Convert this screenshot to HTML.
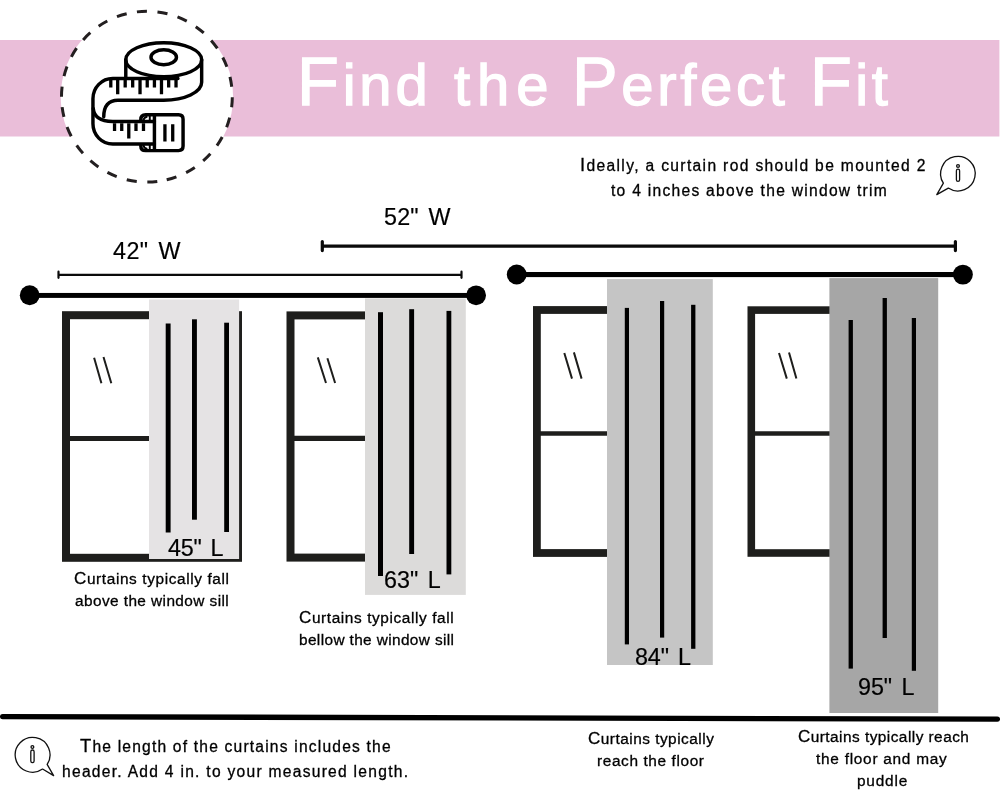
<!DOCTYPE html>
<html lang="en">
<head>
<meta charset="utf-8">
<title>Find the Perfect Fit</title>
<style>
html,body{margin:0;padding:0;background:#fff;}
body{width:1000px;height:800px;position:relative;overflow:hidden;font-family:"Liberation Sans", sans-serif;}
svg.g{position:absolute;left:0;top:0;}
.grp{position:absolute;left:0;top:0;white-space:nowrap;}
.c68_5::first-letter{font-size:68.5px;}
.c17::first-letter{font-size:17px;}
.c18_4::first-letter{font-size:18.4px;}
.t{position:absolute;will-change:transform;white-space:nowrap;line-height:1;font-family:"Liberation Sans", sans-serif;font-weight:400;}
</style>
</head>
<body>
<svg class="g" width="1000" height="800" viewBox="0 0 1000 800">
<!-- banner -->
<rect x="0" y="40" width="999.4" height="96.5" fill="#eabed9"/>
<!-- dashed badge -->
<circle cx="146.9" cy="96.7" r="86.2" fill="#fff"/>
<circle cx="146.9" cy="96.7" r="85.4" fill="none" stroke="#231f20" stroke-width="3" stroke-dasharray="10.1 10.5378" transform="rotate(83.01 146.9 96.7)"/>
<!-- tape measure icon -->
<g transform="translate(85 35) scale(0.14995)" fill="none" stroke="#000" stroke-width="23" stroke-linecap="round" stroke-linejoin="round">
  <ellipse cx="525" cy="165" rx="253" ry="113"/>
  <ellipse cx="525" cy="148" rx="85" ry="50"/>
  <path d="M272 165 V290"/>
  <path d="M620 290 H185 A132 135 0 0 0 53 425 V592 A132 135 0 0 0 185 727 H463"/>
  <path d="M778 165 V315 A253 120 0 0 1 525 435 H220 Q125 435 125 545"/>
  <path d="M55 490 Q62 577 185 577 H463"/>
  <g stroke-linecap="butt" stroke-width="22">
    <path d="M172 298V350M218 298V395M268 298V350M318 298V350M367 298V395M415 298V350M463 298V350M510 298V395M558 298V350M607 298V350"/>
    <path d="M197 588V640M245 588V640M292 588V690M340 588V640M390 588V640"/>
    <path d="M533 595V710M585 595V710"/>
  </g>
  <path d="M405 532 H624 Q654 532 654 562 V741 Q654 771 624 771 H405 Q372 771 372 738 M405 532 Q372 532 372 565 M463 532 V771"/>
  <g stroke-width="13" stroke-linecap="butt">
    <path d="M388 572 Q392 548 416 543 M388 731 Q392 755 416 760 M432 538V572M432 731V765"/>
  </g>
</g>
<!-- info icon top right -->
<g fill="none" stroke="#111" stroke-width="1.3" stroke-linejoin="round">
  <path d="M943.37 183.1 A17.3 17.3 0 1 1 948.28 188.08 L936.8 194.6 Z"/>
  <circle cx="958" cy="166" r="1.4"/>
  <rect x="956.4" y="169.2" width="3.2" height="12.2" rx="1.6"/>
</g>
<!-- info icon bottom left -->
<g fill="none" stroke="#111" stroke-width="1.3" stroke-linejoin="round">
  <path d="M42.58 769.05 A17.4 17.4 0 1 1 47.14 764.35 L53.6 775.6 Z"/>
  <circle cx="32.4" cy="747" r="1.4"/>
  <rect x="30.8" y="750" width="3.3" height="12.6" rx="1.65"/>
</g>
<!-- measurement lines -->
<g stroke="#0a0a0a" fill="none" stroke-linecap="round">
  <path d="M58.5 274.8H461.5M58.5 271.7V277.8M461.5 271.7V277.8" stroke-width="2.2"/>
  <path d="M322.3 246.2H955.4M322.3 241.6V250.6M955.4 241.6V250.6" stroke-width="3.2"/>
</g>
<!-- rods -->
<g fill="#000" stroke="none">
  <rect x="30" y="292.95" width="446" height="4.95"/>
  <circle cx="29.7" cy="295.25" r="9.9"/><circle cx="476.1" cy="295.3" r="9.9"/>
  <rect x="516.7" y="272" width="446" height="5.1"/>
  <circle cx="516.7" cy="274.5" r="9.9"/><circle cx="962.9" cy="274.6" r="9.95"/>
</g>
<!-- windows -->
<g fill="none" stroke="#1e1e1c">
  <rect x="66" y="315.2" width="172" height="242.6" stroke-width="8"/>
  <path d="M70 438.5H234" stroke-width="5.2"/>
  <rect x="290.5" y="315.4" width="170" height="242.2" stroke-width="8"/>
  <path d="M294 438.3H458" stroke-width="5.2"/>
  <rect x="536.9" y="310" width="170" height="243" stroke-width="7.8"/>
  <path d="M540 433.5H704" stroke-width="4.6"/>
  <rect x="751.3" y="310.1" width="170" height="242.9" stroke-width="7.6"/>
  <path d="M755 433.5H918" stroke-width="4.6"/>
  <g stroke-width="2">
    <path d="M94.1 357.8L101.4 383.3M103.5 357L111.3 383.3"/>
    <path d="M317.8 357.4L326 383M327.4 358.2L335.1 383"/>
    <path d="M564.3 353L572 378.6M573.9 352.4L581.6 378.6"/>
    <path d="M779 353L786.8 378.6M789 352.4L796.4 378.6"/>
  </g>
</g>
<!-- curtains -->
<rect x="149" y="299.5" width="90.1" height="259.5" fill="#e5e3e4"/>
<rect x="365" y="298.4" width="100.8" height="296.5" fill="#dcdbda"/>
<rect x="607" y="279.1" width="105.8" height="385.9" fill="#c5c5c5"/>
<rect x="829.4" y="278.1" width="108.8" height="434.9" fill="#a6a6a6"/>
<!-- curtain stripes -->
<g fill="#000">
  <rect x="165.7" y="323.5" width="4.9" height="209"/>
  <rect x="192" y="319.3" width="4.9" height="200.4"/>
  <rect x="224.2" y="322.7" width="4.8" height="209.3"/>
  <rect x="378" y="312.2" width="5" height="263.8"/>
  <rect x="409.2" y="309.2" width="4.9" height="244.8"/>
  <rect x="446.5" y="310.9" width="4.8" height="263.5"/>
  <rect x="624.8" y="307.9" width="4.2" height="336.5"/>
  <rect x="660" y="301" width="4.2" height="336.6"/>
  <rect x="691.1" y="304.8" width="4.3" height="344"/>
  <rect x="848.6" y="320" width="4.3" height="348.6"/>
  <rect x="882.6" y="298" width="4.3" height="340"/>
  <rect x="911.8" y="318" width="4.2" height="352.8"/>
</g>
<!-- floor -->
<path d="M2.6 716.6L997.4 719.2" stroke="#000" stroke-width="5.3" stroke-linecap="round" fill="none"/>
</svg>

<div class="grp"><span class="t c68_5" id="g1_a" style="left:296.63px;top:47.90px;font-size:58px;letter-spacing:3.804px;-webkit-text-stroke:1.3px #fff;color:#fff">Find</span> <span class="t" id="g1_b" style="left:453.66px;top:55.90px;font-size:58px;letter-spacing:6.967px;-webkit-text-stroke:1.3px #fff;color:#fff">the</span> <span class="t c68_5" id="g1_c" style="left:572.10px;top:47.90px;font-size:58px;letter-spacing:3.665px;-webkit-text-stroke:1.3px #fff;color:#fff">Perfect</span> <span class="t c68_5" id="g1_d" style="left:810.13px;top:47.90px;font-size:58px;letter-spacing:3.476px;-webkit-text-stroke:1.3px #fff;color:#fff">Fit</span></div>
<div class="t c18_4" id="t_i1" style="left:579.81px;top:155.79px;font-size:15.6px;letter-spacing:1.348px;-webkit-text-stroke:0.3px #000;color:#000">Ideally, a curtain rod should be mounted 2</div>
<div class="t" id="t_i2" style="left:611.29px;top:182.79px;font-size:15.6px;letter-spacing:1.279px;-webkit-text-stroke:0.3px #000;color:#000">to 4 inches above the window trim</div>
<div class="t" id="t_w42" style="left:113.26px;top:240.28px;font-size:23.3px;letter-spacing:0.474px;word-spacing:3px;-webkit-text-stroke:0.2px #000;color:#000">42&quot; W</div>
<div class="t" id="t_w52" style="left:384.47px;top:206.28px;font-size:23.3px;letter-spacing:0.221px;word-spacing:3px;-webkit-text-stroke:0.2px #000;color:#000">52&quot; W</div>
<div class="t" id="t_l45" style="left:168.26px;top:537.28px;font-size:23.3px;letter-spacing:-0.263px;word-spacing:3px;-webkit-text-stroke:0.2px #000;color:#000">45&quot; L</div>
<div class="t" id="t_l63" style="left:383.57px;top:569.28px;font-size:23.3px;letter-spacing:0.039px;word-spacing:3px;-webkit-text-stroke:0.2px #000;color:#000">63&quot; L</div>
<div class="t" id="t_l84" style="left:634.89px;top:646.28px;font-size:23.3px;letter-spacing:-0.142px;word-spacing:3px;-webkit-text-stroke:0.2px #000;color:#000">84&quot; L</div>
<div class="t" id="t_l95" style="left:858.41px;top:676.28px;font-size:23.3px;letter-spacing:-0.070px;word-spacing:3px;-webkit-text-stroke:0.2px #000;color:#000">95&quot; L</div>
<div class="t c17" id="t_c1a" style="left:74.47px;top:569.96px;font-size:15.4px;letter-spacing:0.614px;-webkit-text-stroke:0.3px #000;color:#000">Curtains typically fall</div>
<div class="t" id="t_c1b" style="left:75.32px;top:592.96px;font-size:15.4px;letter-spacing:0.414px;-webkit-text-stroke:0.3px #000;color:#000">above the window sill</div>
<div class="t c17" id="t_c2a" style="left:298.77px;top:608.96px;font-size:15.4px;letter-spacing:0.603px;-webkit-text-stroke:0.3px #000;color:#000">Curtains typically fall</div>
<div class="t" id="t_c2b" style="left:298.93px;top:631.96px;font-size:15.4px;letter-spacing:0.375px;-webkit-text-stroke:0.3px #000;color:#000">bellow the window sill</div>
<div class="t c17" id="t_c3a" style="left:587.67px;top:729.96px;font-size:15.4px;letter-spacing:0.490px;-webkit-text-stroke:0.3px #000;color:#000">Curtains typically</div>
<div class="t" id="t_c3b" style="left:597.08px;top:752.96px;font-size:15.4px;letter-spacing:0.615px;-webkit-text-stroke:0.3px #000;color:#000">reach the floor</div>
<div class="t c17" id="t_c4a" style="left:797.57px;top:727.96px;font-size:15.4px;letter-spacing:0.461px;-webkit-text-stroke:0.3px #000;color:#000">Curtains typically reach</div>
<div class="t" id="t_c4b" style="left:816.45px;top:750.96px;font-size:15.4px;letter-spacing:0.739px;-webkit-text-stroke:0.3px #000;color:#000">the floor and may</div>
<div class="t" id="t_c4c" style="left:857.43px;top:772.96px;font-size:15.4px;letter-spacing:0.796px;-webkit-text-stroke:0.3px #000;color:#000">puddle</div>
<div class="t c18_4" id="t_b1" style="left:79.63px;top:736.79px;font-size:15.6px;letter-spacing:1.194px;-webkit-text-stroke:0.3px #000;color:#000">The length of the curtains includes the</div>
<div class="t" id="t_b2" style="left:62.24px;top:763.79px;font-size:15.6px;letter-spacing:1.273px;-webkit-text-stroke:0.3px #000;color:#000">header. Add 4 in. to your measured length.</div>
</body>
</html>
